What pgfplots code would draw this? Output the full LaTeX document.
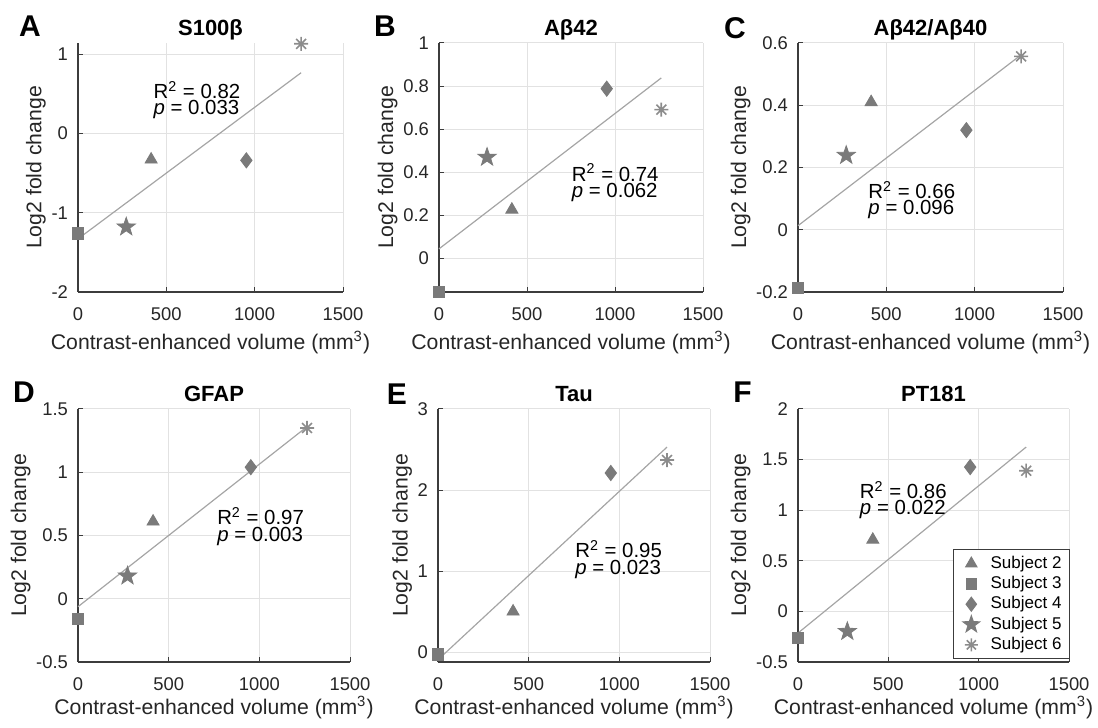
\documentclass[border=0pt]{standalone}
\usepackage{pgfplots}
\pgfplotsset{compat=1.18}
\usepackage{fontspec}
\setmainfont{Liberation Sans}

\definecolor{mkgray}{RGB}{122,122,122}
\definecolor{asgray}{RGB}{140,140,140}
\definecolor{fitgray}{RGB}{165,165,165}
\definecolor{gridgray}{RGB}{226,226,226}
\definecolor{axgray}{RGB}{60,60,60}

\newcommand\tickfont{\fontsize{9.2}{11}\selectfont}
\newcommand\labfont{\fontsize{10.6}{12}\selectfont}
\newcommand\titfont{\fontsize{11}{13}\selectfont\bfseries}
\newcommand\letfont{\fontsize{15}{17}\selectfont\bfseries}
\newcommand\statfont{\fontsize{10.2}{8.2}\selectfont}
\newcommand\legfont{\fontsize{8.5}{9}\selectfont}

% filled five-point star
\pgfdeclareplotmark{fstar}{%
  \pgfpathmoveto{\pgfpointpolar{90}{\pgfplotmarksize}}%
  \pgfpathlineto{\pgfpointpolar{126}{0.4\pgfplotmarksize}}%
  \pgfpathlineto{\pgfpointpolar{162}{\pgfplotmarksize}}%
  \pgfpathlineto{\pgfpointpolar{198}{0.4\pgfplotmarksize}}%
  \pgfpathlineto{\pgfpointpolar{234}{\pgfplotmarksize}}%
  \pgfpathlineto{\pgfpointpolar{270}{0.4\pgfplotmarksize}}%
  \pgfpathlineto{\pgfpointpolar{306}{\pgfplotmarksize}}%
  \pgfpathlineto{\pgfpointpolar{342}{0.4\pgfplotmarksize}}%
  \pgfpathlineto{\pgfpointpolar{18}{\pgfplotmarksize}}%
  \pgfpathlineto{\pgfpointpolar{54}{0.4\pgfplotmarksize}}%
  \pgfpathclose\pgfusepathqfillstroke}
% matlab style asterisk (+ and x)
\pgfdeclareplotmark{mast}{%
  \pgfpathmoveto{\pgfqpoint{-\pgfplotmarksize}{0pt}}\pgfpathlineto{\pgfqpoint{\pgfplotmarksize}{0pt}}%
  \pgfpathmoveto{\pgfqpoint{0pt}{-\pgfplotmarksize}}\pgfpathlineto{\pgfqpoint{0pt}{\pgfplotmarksize}}%
  \pgfpathmoveto{\pgfqpoint{-.707\pgfplotmarksize}{-.707\pgfplotmarksize}}\pgfpathlineto{\pgfqpoint{.707\pgfplotmarksize}{.707\pgfplotmarksize}}%
  \pgfpathmoveto{\pgfqpoint{-.707\pgfplotmarksize}{.707\pgfplotmarksize}}\pgfpathlineto{\pgfqpoint{.707\pgfplotmarksize}{-.707\pgfplotmarksize}}%
  \pgfusepathqstroke}

\pgfplotsset{
  panel/.style={
    scale only axis,
    xmin=0, xmax=1500, xtick={0,500,1000,1500},
    enlargelimits=false, clip=false,
    axis x line*=bottom, axis y line*=left,
    axis line style={axgray, line width=0.6pt, -},
    grid=major, grid style={gridgray, line width=0.5pt},
    tick align=inside, major tick length=2.5pt,
    tick style={axgray, line width=0.5pt},
    ticklabel style={font=\tickfont, text=black!85},
    xticklabel style={yshift=-4.5pt},
    yticklabel style={xshift=-1.5pt},
    /pgf/number format/1000 sep={},
    /pgf/number format/assume math mode=true,
    xlabel={Contrast-enhanced volume (mm\textsuperscript{3})},
    ylabel={Log2 fold change},
    label style={font=\labfont, text=black!85},
    ylabel shift=-4pt,
    title style={font=\titfont, anchor=base, yshift=-2.2pt},
  },
  toprow/.style={xlabel shift=-2pt},
  botrow/.style={xlabel shift=-4.5pt},
  s2/.style={only marks, mark=triangle*, mark size=3.5pt, color=mkgray},
  s3/.style={only marks, mark=square*, mark size=2.8pt, color=mkgray},
  s4/.style={only marks, mark=diamond*, mark size=3.8pt, color=mkgray},
  s5/.style={only marks, mark=fstar, mark size=4.8pt, color=mkgray},
  s6/.style={only marks, mark=mast, mark size=3.5pt, color=asgray, mark options={line width=0.8pt}},
  fit/.style={no marks, fitgray, line width=0.6pt, forget plot},
}

\begin{document}
\begin{tikzpicture}
\useasboundingbox (0,0) rectangle (549pt,364pt);

% A
\begin{axis}[panel, toprow, at={(39pt,218pt)}, anchor=south west, width=132.5pt, height=124.5pt,
  ymin=-2, ymax=1.14, ytick={-2,-1,0,1}, title={S100β}]
\addplot[fit] coordinates {(0,-1.33) (1263,0.765)};
\addplot[s2] coordinates {(414,-0.33)};
\addplot[s3] coordinates {(0,-1.26)};
\addplot[s4] coordinates {(953,-0.34)};
\addplot[s5] coordinates {(273,-1.18)};
\addplot[s6] coordinates {(1263,1.13)};
\node[anchor=west, align=left, font=\statfont] at (axis cs:388,0.42) {R\textsuperscript{2} = 0.82\\\textit{p} = 0.033};
\end{axis}

% B
\begin{axis}[panel, toprow, at={(219.5pt,218pt)}, anchor=south west, width=132pt, height=124.5pt,
  ymin=-0.155, ymax=1, ytick={0,0.2,0.4,0.6,0.8,1}, title={Aβ42}]
\addplot[fit] coordinates {(0,0.045) (1263,0.838)};
\addplot[s2] coordinates {(414,0.227)};
\addplot[s3] coordinates {(0,-0.155)};
\addplot[s4] coordinates {(953,0.788)};
\addplot[s5] coordinates {(273,0.47)};
\addplot[s6] coordinates {(1263,0.691)};
\node[anchor=west, align=left, font=\statfont] at (axis cs:715,0.351) {R\textsuperscript{2} = 0.74\\\textit{p} = 0.062};
\end{axis}

% C
\begin{axis}[panel, toprow, at={(399pt,218pt)}, anchor=south west, width=132.5pt, height=124.5pt,
  ymin=-0.2, ymax=0.6, ytick={-0.2,0,0.2,0.4,0.6}, title={Aβ42/Aβ40}]
\addplot[fit] coordinates {(0,0.013) (1263,0.562)};
\addplot[s2] coordinates {(414,0.41)};
\addplot[s3] coordinates {(0,-0.187)};
\addplot[s4] coordinates {(953,0.32)};
\addplot[s5] coordinates {(273,0.239)};
\addplot[s6] coordinates {(1263,0.557)};
\node[anchor=west, align=left, font=\statfont] at (axis cs:359,0.095) {R\textsuperscript{2} = 0.66\\\textit{p} = 0.096};
\end{axis}

% D
\begin{axis}[panel, botrow, at={(39pt,33pt)}, anchor=south west, width=136pt, height=126.5pt,
  ymin=-0.5, ymax=1.5, ytick={-0.5,0,0.5,1,1.5}, title={GFAP}]
\addplot[fit] coordinates {(0,-0.063) (1263,1.36)};
\addplot[s2] coordinates {(414,0.61)};
\addplot[s3] coordinates {(0,-0.16)};
\addplot[s4] coordinates {(953,1.04)};
\addplot[s5] coordinates {(273,0.18)};
\addplot[s6] coordinates {(1263,1.35)};
\node[anchor=west, align=left, font=\statfont] at (axis cs:729,0.57) {R\textsuperscript{2} = 0.97\\\textit{p} = 0.003};
\end{axis}

% E (no subject 5)
\begin{axis}[panel, botrow, at={(219pt,33pt)}, anchor=south west, width=136pt, height=126.5pt,
  ymin=-0.123, ymax=3, ytick={0,1,2,3}, title={Tau}]
\addplot[fit] coordinates {(0,-0.095) (1263,2.53)};
\addplot[s2] coordinates {(414,0.50)};
\addplot[s3] coordinates {(0,-0.03)};
\addplot[s4] coordinates {(953,2.21)};
\addplot[s6] coordinates {(1263,2.37)};
\node[anchor=west, align=left, font=\statfont] at (axis cs:718,1.14) {R\textsuperscript{2} = 0.95\\\textit{p} = 0.023};
\end{axis}

% F
\begin{axis}[panel, botrow, at={(399pt,33pt)}, anchor=south west, width=135.5pt, height=126.5pt,
  ymin=-0.5, ymax=2, ytick={-0.5,0,0.5,1,1.5,2}, title={PT181},
  legend cell align=left,
  legend image code/.code={%
    \path (0cm,-0.1cm) (0.5cm,0.1cm);
    \draw[#1, mark size=0.92\pgfplotmarksize] plot coordinates {(0.24cm,0cm)};},
  legend style={at={(1,0)}, anchor=south east, xshift=0.5pt, yshift=1.5pt, draw=axgray, line width=0.5pt,
    font=\legfont, inner xsep=2pt, inner ysep=1pt, row sep=-1.5pt}]
\addplot[fit] coordinates {(0,-0.214) (1263,1.624)};
\addplot[s2] coordinates {(414,0.708)};
\addplot[s3] coordinates {(0,-0.263)};
\addplot[s4] coordinates {(953,1.426)};
\addplot[s5] coordinates {(273,-0.198)};
\addplot[s6] coordinates {(1263,1.39)};
\legend{Subject 2, Subject 3, Subject 4, Subject 5, Subject 6}
\node[anchor=west, align=left, font=\statfont] at (axis cs:304,1.10) {R\textsuperscript{2} = 0.86\\\textit{p} = 0.022};
\end{axis}

% panel letters
\node[font=\letfont] at (15pt,350.75pt) {A};
\node[font=\letfont] at (192.5pt,350.75pt) {B};
\node[font=\letfont] at (367.5pt,350pt) {C};
\node[font=\letfont] at (12pt,168pt) {D};
\node[font=\letfont] at (198.5pt,167pt) {E};
\node[font=\letfont] at (371.25pt,168pt) {F};
\end{tikzpicture}
\end{document}
